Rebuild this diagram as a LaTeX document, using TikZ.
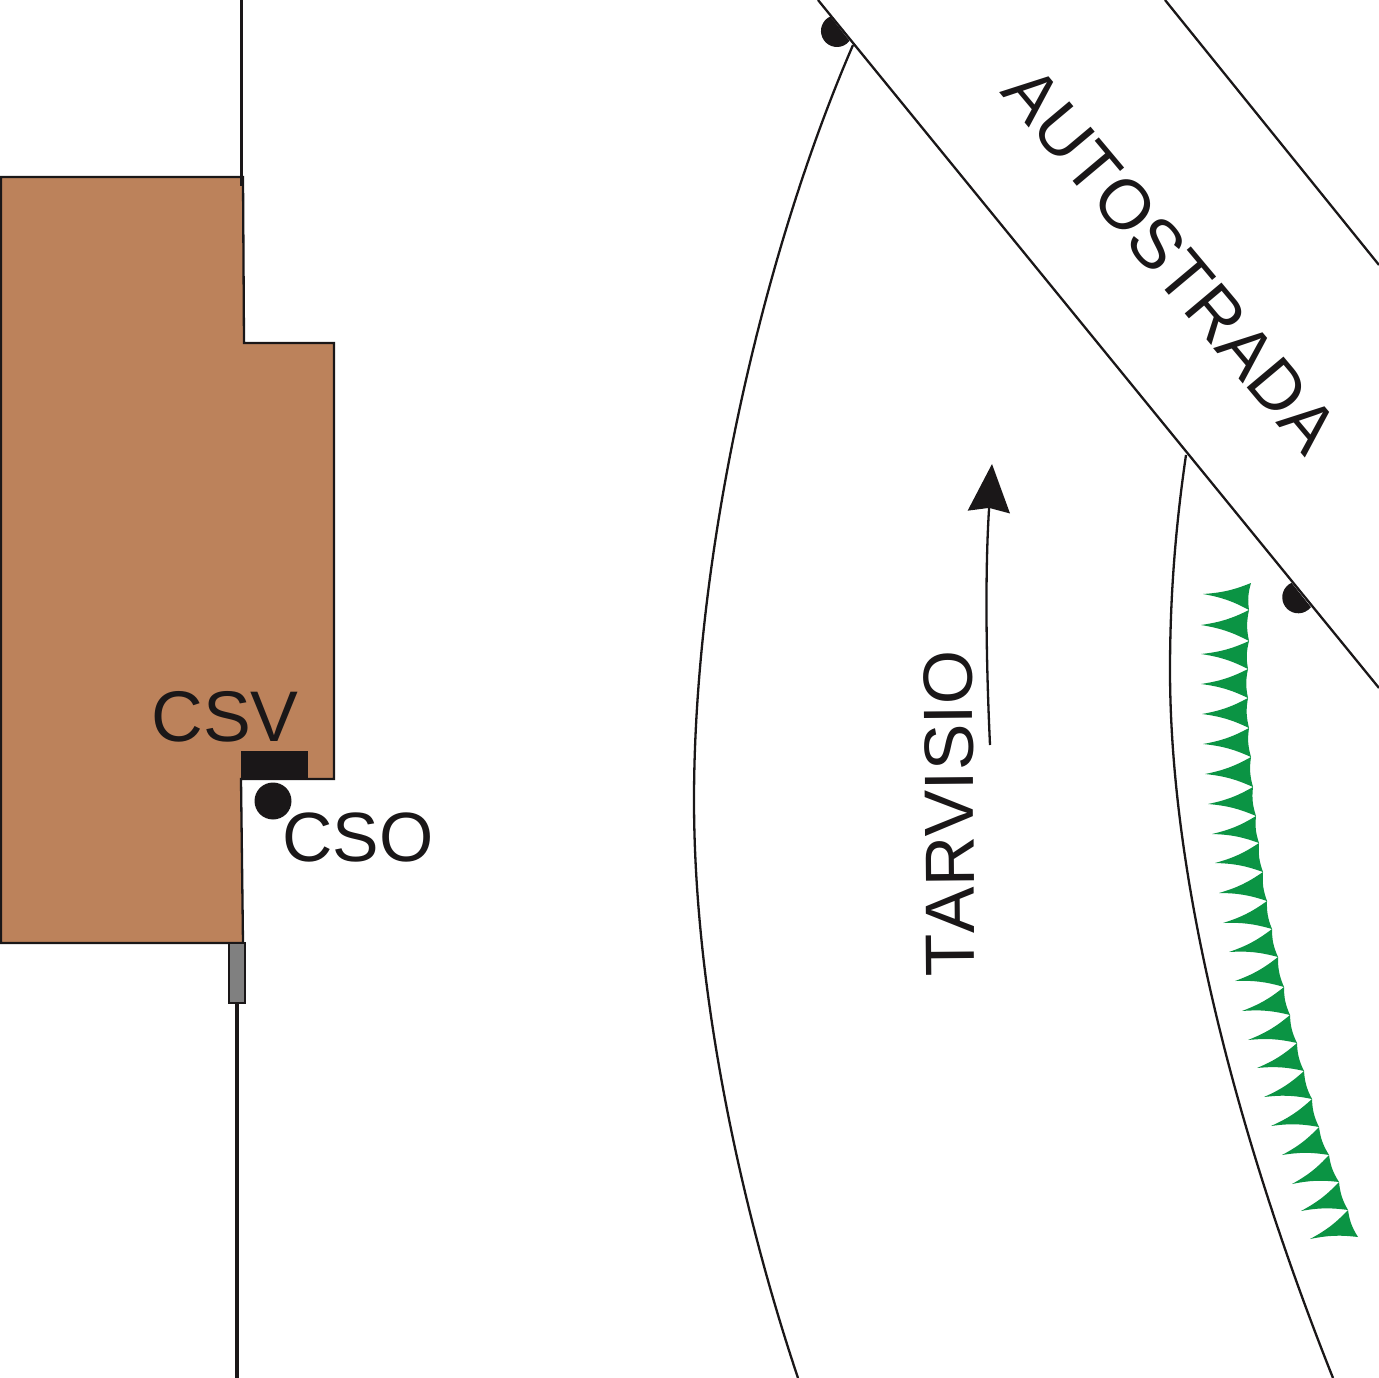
\documentclass[tikz,border=0pt]{standalone}
\usepackage{fontspec}
\setmainfont[Kerning=Off]{Liberation Sans}
\usetikzlibrary{arrows.meta}
\definecolor{inkblack}{HTML}{1A1718}
\definecolor{housebrown}{HTML}{BC825B}
\definecolor{hedgegreen}{HTML}{0B9444}
\definecolor{gategrey}{HTML}{808080}
\tikzset{
  thinline/.style={draw=inkblack, line width=0.046cm},
  poleline/.style={draw=inkblack, line width=0.065cm},
  bigtext/.style={text=inkblack, inner sep=0pt, font=\fontsize{39.7}{40}\selectfont},
}
\begin{document}
\begin{tikzpicture}[x=0.02cm,y=-0.02cm]
\useasboundingbox (0,0) rectangle (1379,1378);
% house
\draw[thinline, fill=housebrown] (1,177) -- (243,177) -- (244,343) -- (334,343) -- (334,779) -- (241,779) -- (243,943) -- (1,943) -- cycle;
\coordinate (poletop) at (241.5,0);
\coordinate (poleend) at (241.5,186);
\draw[poleline] (poletop) -- (poleend);
\node[draw=inkblack, line width=0.04cm, fill=gategrey, minimum width=0.31cm, minimum height=1.2cm, inner sep=0pt] (gate) at (237,973) {};
\coordinate (polebottom) at (237,1378);
\draw[poleline] (gate.south) -- (polebottom);
\node[fill=inkblack, minimum width=1.34cm, minimum height=0.58cm, inner sep=0pt] (csvbox) at (274.5,765) {};
\node[circle, fill=inkblack, minimum size=0.74cm, inner sep=0pt] (csodot) at (273,801) {};
\node[bigtext, font=\fontsize{40.8}{41}\selectfont] (csv) at (225,717) {CSV};
\node[bigtext] (cso) at (358,837) {CSO};
% roads
\coordinate (edgeatop) at (818,0);
\coordinate (edgeabot) at (1379,688);
\coordinate (edgebtop) at (1165,0);
\coordinate (edgebbot) at (1379,265);
\draw[thinline] (edgeatop) -- (edgeabot);
\draw[thinline] (edgebtop) -- (edgebbot);
\coordinate (lefttop) at (853,45);
\coordinate (leftmid) at (694,800);
\coordinate (leftbot) at (798,1378);
\coordinate (righttop) at (1186,455);
\coordinate (rightmid) at (1170,670);
\coordinate (rightbot) at (1333,1378);
\draw[thinline] (lefttop) .. controls (760,260) and (694,560) .. (leftmid) .. controls (694,1000) and (745,1220) .. (leftbot);
\draw[thinline] (righttop) .. controls (1175,530) and (1170,600) .. (rightmid) .. controls (1170,900) and (1250,1170) .. (rightbot);
% half dots on the road edge
\foreach \hx/\hy in {830.2/16.5, 1291.5/582.8}
  \fill[inkblack] (\hx,\hy) arc[start angle=245, end angle=38, radius=16] -- cycle;
\node[bigtext, rotate=-50] (autostrada) at (1171,260) {AUTOSTRADA};
\node[bigtext, rotate=90.5] (tarvisio) at (949.5,813.5) {TARVISIO};
% direction arrow
\coordinate (arrowfoot) at (990,745);
\coordinate (arrowtip) at (992,464);
\draw[thinline, -{Stealth[length=0.96cm, width=0.84cm, inset=0.08cm, inkblack]}] (arrowfoot) .. controls (986,660) and (985,570) .. (arrowtip);
% hedge
\foreach \tx/\ty/\rx/\ry [remember=\rx as \px (initially 1251), remember=\ry as \py (initially 583)] in {
  1203/594/1249/610, 1201/625/1249/641, 1201/654/1248/669, 1201/684/1248/698,
  1202/714/1249/728, 1203/744/1251/757, 1205/774/1253/787, 1208/804/1256/816,
  1212/834/1259/843, 1215/863/1263/872, 1219/893/1267/901, 1223/923/1272/929,
  1229/952/1278/957, 1235/981/1284/987, 1242/1011/1290/1015, 1248/1040/1297/1043,
  1257/1068/1304/1071, 1264/1097/1312/1099, 1271/1126/1319/1127, 1282/1155/1329/1155,
  1292/1184/1339/1182, 1301/1211/1348/1210, 1310/1239/1358/1237}
  \fill[hedgegreen] (\px,\py) to[bend left=9] (\tx,\ty) to[bend left=9] (\rx,\ry) to[bend left=12] cycle;
\end{tikzpicture}
\end{document}
